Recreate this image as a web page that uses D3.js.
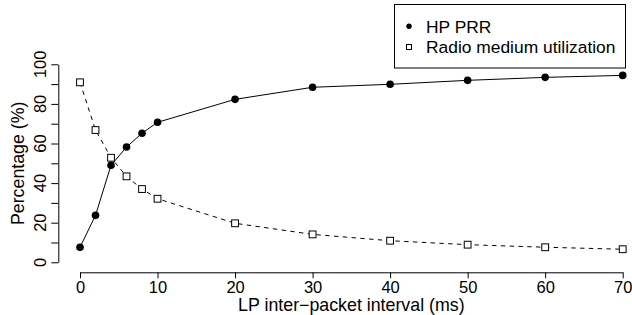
<!DOCTYPE html>
<html>
<head>
<meta charset="utf-8">
<script src="https://cdn.jsdelivr.net/npm/d3@7"></script>
<style>
html,body{margin:0;padding:0;background:#fff;}
text{font-family:"Liberation Sans",Arial,Helvetica,sans-serif;}
</style>
</head>
<body>
<svg id="chart" width="632" height="315"></svg>
<script>
const intervals = [0, 2, 4, 6, 8, 10, 20, 30, 40, 50, 60, 70];
const hpPRR = [7.6, 23.7, 49, 58.2, 65.2, 70.7, 82.3, 88.4, 89.9, 91.9, 93.4, 94.4];
const radioUtil = [90.9, 66.8, 52.8, 43.4, 37, 32.1, 19.7, 14.1, 10.9, 8.9, 7.6, 6.6];
const xTicks = [0, 10, 20, 30, 40, 50, 60, 70];
const yTicks = [0, 10, 20, 30, 40, 50, 60, 70, 80, 90, 100];
const yLabels = [0, 20, 40, 60, 80, 100];
const seriesNames = ["HP PRR", "Radio medium utilization"];
const xTitle = "LP inter\u2212packet interval (ms)";
const yTitle = "Percentage (%)";

const svg = d3.select("#chart");
const fsTick = 16.5, fsTitle = 17.8, fsLeg = 17.4;
const x = d3.scaleLinear().domain([0, 70]).range([80, 622.7]);
const y = d3.scaleLinear().domain([0, 100]).range([262.3, 64.3]);

// X axis
const xAxisG = svg.append("g").attr("transform", "translate(0,272.3)")
  .call(d3.axisBottom(x).tickValues(xTicks).tickSize(6).tickSizeOuter(0).tickPadding(3).tickFormat(d3.format("d")));
xAxisG.selectAll("text").attr("font-size", fsTick).attr("fill", "#000").attr("font-family", "Liberation Sans, Arial, sans-serif");
xAxisG.selectAll("line,path").attr("stroke", "#000");

// Y axis
const yAxisG = svg.append("g").attr("transform", "translate(58.3,0)")
  .call(d3.axisLeft(y).tickValues(yTicks).tickSize(7).tickSizeOuter(0).tickFormat(""));
yAxisG.selectAll("line,path").attr("stroke", "#000");
yAxisG.selectAll(".tick text").remove();
svg.append("g").selectAll("text").data(yLabels).join("text")
  .attr("transform", d => `translate(46,${y(d)}) rotate(-90)`)
  .attr("text-anchor", "middle")
  .attr("font-size", fsTick)
  .text(d => d);

// Titles
svg.append("text").attr("x", (x(0) + x(70)) / 2).attr("y", 311)
  .attr("text-anchor", "middle").attr("font-size", fsTitle).text(xTitle);
svg.append("text").attr("transform", `translate(23.5,${(y(0) + y(100)) / 2}) rotate(-90)`)
  .attr("text-anchor", "middle").attr("font-size", fsTitle).text(yTitle);

const line = d3.line().x(d => x(d[0])).y(d => y(d[1]));
const prrData = intervals.map((v, i) => [v, hpPRR[i]]);
const radData = intervals.map((v, i) => [v, radioUtil[i]]);

svg.append("path").datum(radData).attr("d", line).attr("fill", "none")
  .attr("stroke", "#000").attr("stroke-width", 1).attr("stroke-dasharray", "4.4,4.4");
svg.append("path").datum(prrData).attr("d", line).attr("fill", "none")
  .attr("stroke", "#000").attr("stroke-width", 1);

const sq = 6.8;
svg.append("g").selectAll("rect").data(radData).join("rect")
  .attr("x", d => x(d[0]) - sq / 2).attr("y", d => y(d[1]) - sq / 2)
  .attr("width", sq).attr("height", sq)
  .attr("fill", "#fff").attr("stroke", "#000").attr("stroke-width", 1);
svg.append("g").selectAll("circle").data(prrData).join("circle")
  .attr("cx", d => x(d[0])).attr("cy", d => y(d[1])).attr("r", 3.8).attr("fill", "#000");

// Legend
const lg = svg.append("g");
lg.append("rect").attr("x", 394.5).attr("y", 4.5).attr("width", 231).attr("height", 63.5)
  .attr("fill", "#fff").attr("stroke", "#000").attr("stroke-width", 1);
lg.append("circle").attr("cx", 409).attr("cy", 26.3).attr("r", 2.7).attr("fill", "#000");
lg.append("rect").attr("x", 406.5).attr("y", 44.5).attr("width", 5).attr("height", 5)
  .attr("fill", "#fff").attr("stroke", "#000").attr("stroke-width", 1);
lg.selectAll("text.lt").data(seriesNames).join("text").attr("class", "lt")
  .attr("x", 426).attr("y", (d, i) => 32.5 + i * 20.7)
  .attr("font-size", fsLeg).text(d => d);
</script>
</body>
</html>
